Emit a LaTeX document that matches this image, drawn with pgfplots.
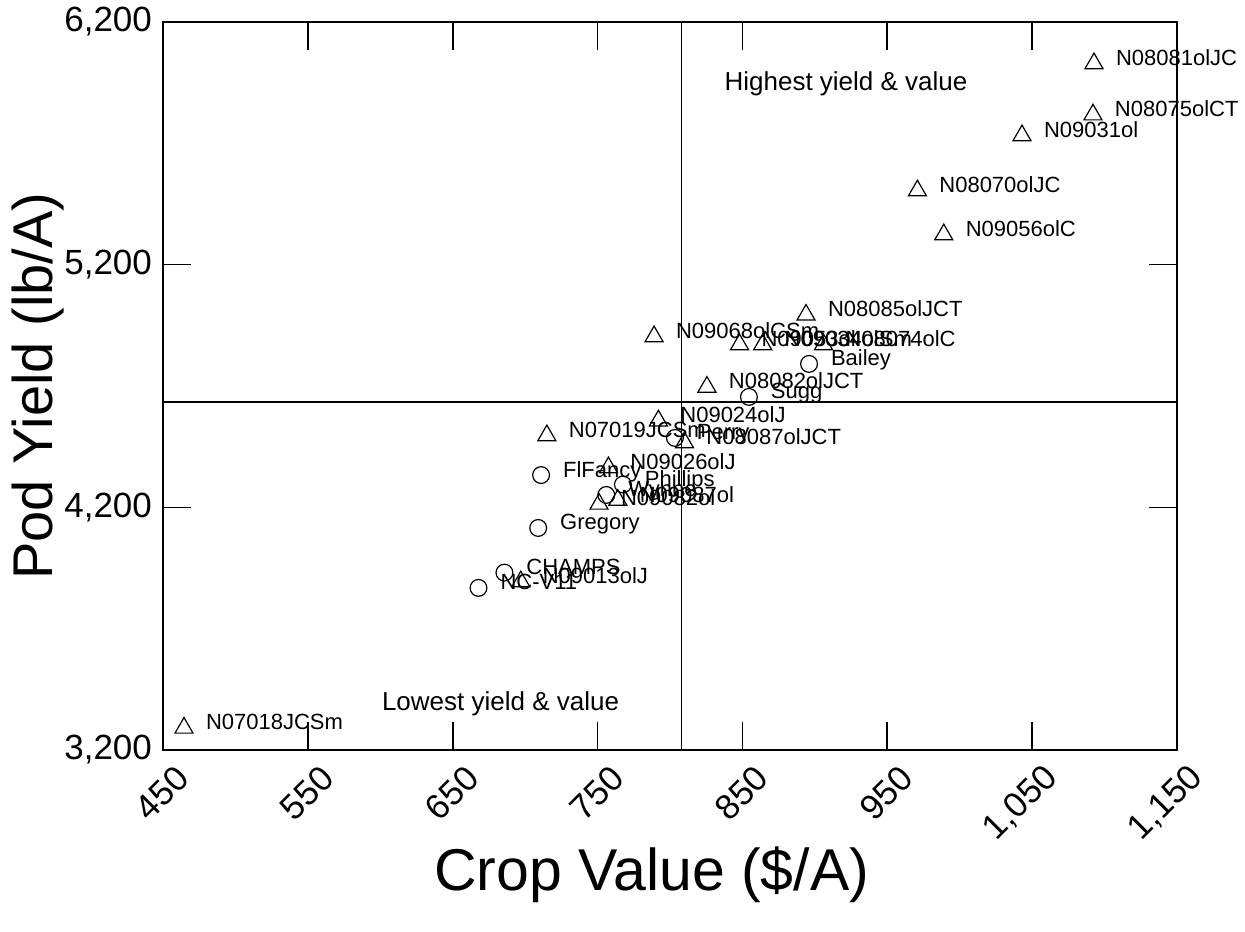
\documentclass[border=0pt]{standalone}
\usepackage{fontspec}
\setmainfont{Liberation Sans}
\usepackage{pgfplots}
\usepackage{pgfplotstable}
\pgfplotsset{compat=1.18}
\pgfplotstableread{
x y label
1092.7 6029 N08081olJC
1092 5818 N08075olCT
1043 5732 N09031ol
970.8 5505 N08070olJC
989 5324 N09056olC
893.9 4993 N08085olJCT
789 4904 N09068olCSm
848 4871 N09053ol
864 4871 N09034olSm
906 4871 N08074olC
825.5 4696 N08082olJCT
792 4557 N09024olJ
810 4467 N08087olJCT
715 4496 N07019JCSm
757.5 4364 N09026olJ
751 4214 N09082ol
764 4230 N09087ol
697 3894 N09013olJ
464.5 3291 N07018JCSm
}\lines
\pgfplotstableread{
x y label
896 4791 Bailey
854.5 4655 Sugg
803.4 4486 Perry
711 4333 FlFancy
767.5 4294 Phillips
756 4251 Wynne
709 4115 Gregory
685.7 3931 CHAMPS
667.8 3868 NC-V11
}\checks
\pgfplotsset{
  lbl/.style={
    nodes near coords={\smash{\makebox[0pt][l]{\raisebox{-1pt}{\pgfplotspointmeta}}}},
    point meta=explicit symbolic,
    nodes near coords align=center,
    every node near coord/.append style={font=\fontsize{11}{13}\selectfont, inner sep=0pt, outer sep=0pt, anchor=center, xshift=11pt, black}
  }
}
\begin{document}
\begin{tikzpicture}
\useasboundingbox (-81.5pt,-90.5pt) rectangle (541pt,375pt);
\begin{axis}[
  at={(0,0)}, anchor=south west,
  scale only axis, width=507pt, height=364pt,
  xmin=450, xmax=1150, ymin=3200, ymax=6200,
  xtick={450,550,...,1150}, ytick={3200,4200,5200,6200},
  axis line style={line width=0.9pt},
  major tick style={line width=0.8pt, black},
  major tick length=14pt,
  tick align=inside,
  /pgf/number format/1000 sep={,},
  /pgf/number format/assume math mode=true,
  tick label style={font=\fontsize{17.5}{20}\selectfont},
  xticklabel style={inner sep=0pt, xshift=10pt, yshift=-11pt, rotate=45, anchor=east},
  yticklabel style={xshift=-2pt},
  xlabel={Crop Value (\$/A)}, ylabel={Pod Yield (lb/A)},
  every axis x label/.style={at={(axis description cs:0.482,0)}, yshift=-70pt, anchor=base, font=\fontsize{29.5}{32}\selectfont},
  every axis y label/.style={at={(axis description cs:0,0.5)}, xshift=-62.5pt, rotate=90, anchor=center, font=\fontsize{28}{30}\selectfont},
  clip=false,
]
\addplot[black, line width=0.7pt] coordinates {(808,3200) (808,6200)};
\addplot[black, line width=0.7pt] coordinates {(450,4634) (1150,4634)};
\addplot[only marks, mark=triangle, mark size=5.2pt, mark options={black, line width=0.6pt, fill=none}, lbl]
  table[x=x, y=y, meta=label] {\lines};
\addplot[only marks, mark=o, mark size=4.2pt, mark options={black, line width=0.6pt, fill=none}, lbl]
  table[x=x, y=y, meta=label] {\checks};
\node[font=\fontsize{13}{15}\selectfont] at (axis cs:921.5,5944) {Highest yield \& value};
\node[font=\fontsize{13}{15}\selectfont] at (axis cs:683,3390) {Lowest yield \& value};
\end{axis}
\end{tikzpicture}
\end{document}
